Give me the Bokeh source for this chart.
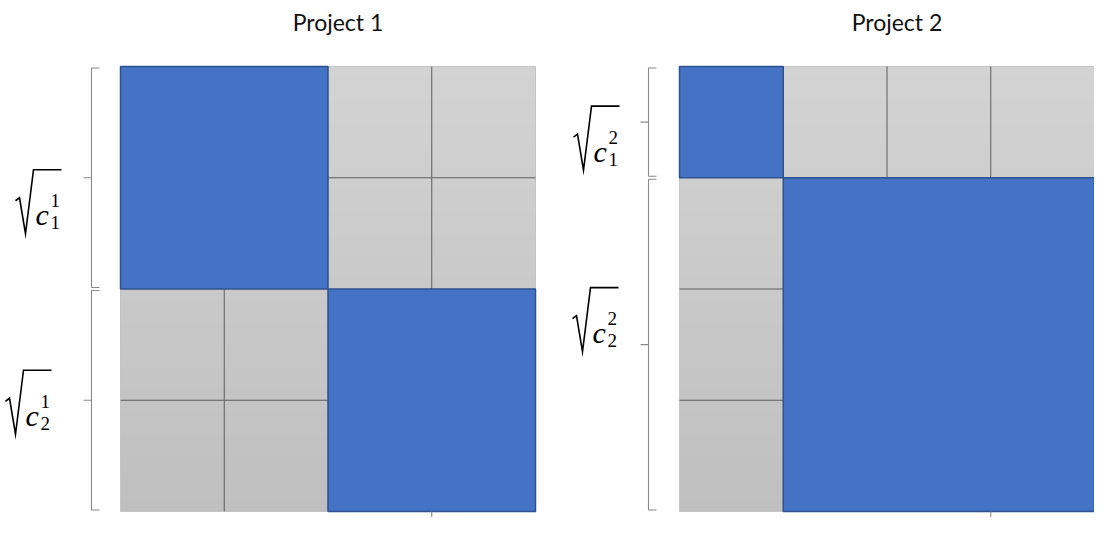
from bokeh.plotting import figure
from bokeh.layouts import row
from bokeh.models import Range1d
from bokeh.core.properties import value
from bokeh.embed import file_html
from bokeh.resources import INLINE

# ---- data ----
projects = ["Project 1", "Project 2"]
block_sizes = [[2, 2], [1, 3]]          # diagonal block sizes (cells) per project
label_base = ["c", "c"]
label_sub = [["1", "2"], ["1", "2"]]    # subscript per block
label_sup = ["1", "2"]                  # superscript per project

# ---- styles / layout ----
BLUE = "#4472C4"
BLUE_EDGE = "#2F528F"
GRID = "#5e5e5e"
BRACE = "#8a8a8a"
GRAY_TOP = (211, 211, 211)
GRAY_BOT = (191, 191, 191)
H = 517
MT, MW, MH = 66, 415, 445
layouts = [
    dict(W=560, ML=120, brace=-29, label_px=[(-87, -8), (-97, -30)]),
    dict(W=534, ML=119, brace=-31, label_px=[(-86, -16), (-87, -57)]),
]


def panel(i):
    L = layouts[i]
    W, ML = L["W"], L["ML"]
    sizes = block_sizes[i]
    n = sum(sizes)
    sx, sy = MW / n, MH / n

    p = figure(width=W, height=H,
               x_range=Range1d(-ML / sx, (W - ML) / sx),
               y_range=Range1d((H - MT) / sy, -MT / sy),
               x_axis_type=None, y_axis_type=None,
               toolbar_location=None, output_backend="svg",
               min_border=0, outline_line_color=None)

    def X(px):
        return (px - ML) / sx

    def Y(py):
        return (py - MT) / sy

    # gradient gray background
    ns = 80
    h = n / ns
    tops, bots, cols = [], [], []
    for k in range(ns):
        t = k / (ns - 1)
        c = tuple(int(round(GRAY_TOP[j] + (GRAY_BOT[j] - GRAY_TOP[j]) * t)) for j in range(3))
        tops.append(k * h)
        bots.append(min(n, (k + 1.6) * h))
        cols.append("#%02x%02x%02x" % c)
    p.quad(left=[0] * ns, right=[n] * ns, top=tops, bottom=bots,
           fill_color=cols, line_color=None)
    p.quad(left=[0], right=[n], top=[0], bottom=[n], fill_color=None,
           line_color="#c4c4c4", line_width=1)

    # block membership
    starts = []
    s = 0
    for b in sizes:
        starts.append(s)
        s += b
    blk = []
    for bi, b in enumerate(sizes):
        blk += [bi] * b

    def blue(r, c):
        return blk[r] == blk[c]

    # internal grid segments between gray cells
    xs, ys = [], []
    for r in range(n):
        for c in range(1, n):
            if not blue(r, c - 1) and not blue(r, c):
                xs.append([c, c]); ys.append([r, r + 1])
    for r in range(1, n):
        for c in range(n):
            if not blue(r - 1, c) and not blue(r, c):
                xs.append([c, c + 1]); ys.append([r, r])
    if xs:
        p.multi_line(xs, ys, line_color=GRID, line_width=1)

    # blue diagonal blocks
    p.quad(left=starts, right=[a + b for a, b in zip(starts, sizes)],
           top=starts, bottom=[a + b for a, b in zip(starts, sizes)],
           fill_color=BLUE, line_color=BLUE_EDGE, line_width=1.5)

    # small tick under the matrix
    p.line([n - 1, n - 1], [n, n + 6 / sy], line_color="#7a7a7a", line_width=1)

    # braces and labels
    bx = X(ML + L["brace"])
    hk = 8 / sx
    for bi, (st, b) in enumerate(zip(starts, sizes)):
        top = st + 1.5 / sy
        bot = st + b - 1.5 / sy
        mid = st + b / 2
        p.line([bx + hk, bx, bx, bx - hk, bx, bx, bx + hk],
               [top, top, mid, mid, mid, bot, bot],
               line_color=BRACE, line_width=1.1)

        dx, dy = L["label_px"][bi]
        ax = ML + L["brace"] + 29 + dx
        ay = MT + mid * sy + dy
        rad = [(-18, 31), (-14, 28), (-8, 64), (0, 0), (28, 0)]
        p.line([X(ax + u) for u, v in rad], [Y(ay + v) for u, v in rad],
               line_color="black", line_width=1.6, line_join="miter")
        p.text(x=[X(ax + 2)], y=[Y(ay + 45)], text=[label_base[i]],
               text_font=value("Liberation Serif"), text_font_style="italic",
               text_font_size="30px", text_baseline="alphabetic",
               text_align="left", text_color="black")
        p.text(x=[X(ax + 17)], y=[Y(ay + 31)], text=[label_sup[i]],
               text_font=value("Liberation Serif"),
               text_font_size="19px", text_baseline="alphabetic",
               text_align="left", text_color="black")
        p.text(x=[X(ax + 17)], y=[Y(ay + 53)], text=[label_sub[i][bi]],
               text_font=value("Liberation Serif"),
               text_font_size="19px", text_baseline="alphabetic",
               text_align="left", text_color="black")

    # title
    p.text(x=[X(ML + MW / 2 + 10)], y=[Y(21)], text=[projects[i]],
           text_font=value("Lato"), text_font_size="23px",
           text_baseline="alphabetic", text_align="center",
           text_color="#111111")
    return p


layout = row(panel(0), panel(1))
open("out.html", "w").write(file_html(layout, INLINE))
